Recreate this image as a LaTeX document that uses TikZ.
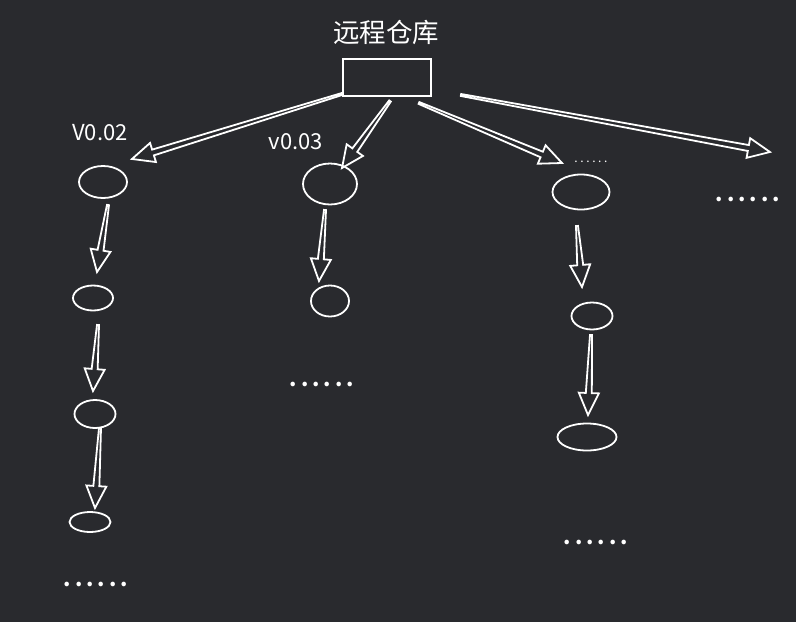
\documentclass[tikz,border=0pt]{standalone}
\usepackage{fontspec}
\setmainfont{Noto Sans CJK SC}
\usetikzlibrary{calc}
\definecolor{bg}{RGB}{41,42,46}
\newcommand\spdots[1]{.\kern#1.\kern#1.\kern#1.\kern#1.\kern#1.}
\newcommand\harrow[2]{%
  \path ($(#2)!22pt!(#1)$) coordinate (hb);
  \draw[arrline] ($(#1)!1pt!90:(#2)$) -- ($(hb)!3pt!90:(#2)$) -- ($(hb)!10pt!90:(#2)$) -- (#2)
     -- ($(hb)!10pt!-90:(#2)$) -- ($(hb)!3pt!-90:(#2)$) -- ($(#1)!1pt!-90:(#2)$) -- cycle;
}
\begin{document}
\begin{tikzpicture}[x=1pt,y=-1pt,
  every node/.style={text=white},
  arrline/.style={draw=white, line width=1.8pt, line join=miter},
  lbl/.style={font=\fontsize{22}{26}\selectfont, inner sep=0pt},
  bigdots/.style={font=\fontsize{21}{24}\selectfont\bfseries, inner sep=0pt},
  smalldots/.style={font=\fontsize{12}{14}\selectfont, inner sep=0pt}]
\fill[bg] (0,0) rectangle (796,622);
\useasboundingbox (0,0) rectangle (796,622);
% title and repository box
\node[font=\fontsize{26.5}{30}\selectfont, inner sep=0pt] (title) at (386,32) {远程仓库};
\node[draw=white, line width=1.8pt, minimum width=88pt, minimum height=37pt, inner sep=0pt] (repo) at (387,77.5) {};
% labels
\node[lbl] (v002) at (100,133) {V0.02};
\node[lbl] (v003) at (296,142) {v0.03};
\node[smalldots] (d3top) at (591,162) {\spdots{2.6pt}};
\node[bigdots] (d4) at (748,199) {\spdots{4.0pt}};
% column 1
\draw[white, line width=1.8pt] (103,182) ellipse [x radius=24, y radius=16]; \coordinate (a1) at (103,182);
\draw[white, line width=1.8pt] (93,298) ellipse [x radius=20, y radius=12.5]; \coordinate (a2) at (93,298);
\draw[white, line width=1.8pt] (95,414) ellipse [x radius=20.5, y radius=14]; \coordinate (a3) at (95,414);
\draw[white, line width=1.8pt] (90,522) ellipse [x radius=20.5, y radius=10]; \coordinate (a4) at (90,522);
\node[bigdots] (d1) at (96,584) {\spdots{4.0pt}};
% column 2
\draw[white, line width=1.8pt] (330,184) ellipse [x radius=27, y radius=20.5]; \coordinate (b1) at (330,184);
\draw[white, line width=1.8pt] (330,301) ellipse [x radius=19, y radius=15.5]; \coordinate (b2) at (330,301);
\node[bigdots] (d2) at (322,384) {\spdots{4.0pt}};
% column 3
\draw[white, line width=1.8pt] (581,192) ellipse [x radius=28.5, y radius=17.5]; \coordinate (c1) at (581,192);
\draw[white, line width=1.8pt] (592,316) ellipse [x radius=20.5, y radius=13.5]; \coordinate (c2) at (592,316);
\draw[white, line width=1.8pt] (587,437) ellipse [x radius=29.5, y radius=13.5]; \coordinate (c3) at (587,437);
\node[bigdots] (d3) at (596,542) {\spdots{4.0pt}};
% arrow end points
\coordinate (t1) at (342,94);  \coordinate (p1) at (132,159);
\coordinate (t2) at (390,101); \coordinate (p2) at (342,168);
\coordinate (t3) at (419,103); \coordinate (p3) at (562,163);
\coordinate (t4) at (461,95);  \coordinate (p4) at (770,152);
\coordinate (t5) at (108,205); \coordinate (p5) at (97,272);
\coordinate (t6) at (98,325);  \coordinate (p6) at (93,391);
\coordinate (t7) at (100,428); \coordinate (p7) at (95,508);
\coordinate (t8) at (325,210); \coordinate (p8) at (319,281);
\coordinate (t9) at (577,226); \coordinate (p9) at (582,287);
\coordinate (t10) at (591,335); \coordinate (p10) at (588,415);
\harrow{t1}{p1}
\harrow{t2}{p2}
\harrow{t3}{p3}
\harrow{t4}{p4}
\harrow{t5}{p5}
\harrow{t6}{p6}
\harrow{t7}{p7}
\harrow{t8}{p8}
\harrow{t9}{p9}
\harrow{t10}{p10}
\end{tikzpicture}
\end{document}
